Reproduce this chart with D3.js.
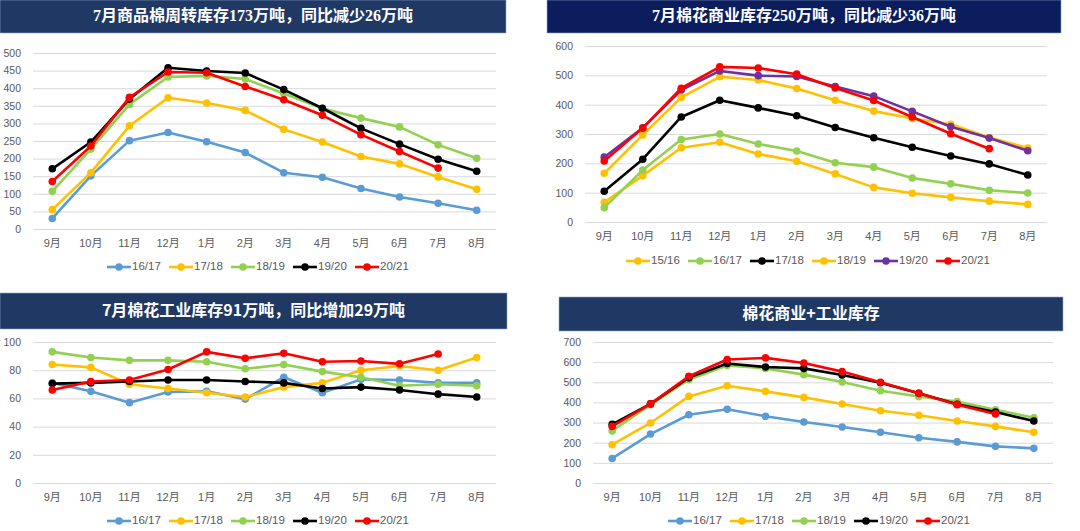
<!DOCTYPE html>
<html><head><meta charset="utf-8">
<script src="https://cdn.jsdelivr.net/npm/d3@7"></script>
<style>body{margin:0;background:#fff}svg{display:block}</style>
</head><body>
<svg id="c" width="1080" height="531"></svg>
<script>
const months = ["9月","10月","11月","12月","1月","2月","3月","4月","5月","6月","7月","8月"];

// Panel 1: 商品棉周转库存
const p1Titles = "7月商品棉周转库存173万吨，同比减少26万吨";
const p1Series = ["16/17","17/18","18/19","19/20","20/21"];
const p1_1617 = [30,151,251,274,248,217,160,147,115,91,73,53];
const p1_1718 = [55,160,293,373,358,337,283,247,206,185,148,113];
const p1_1819 = [107,227,354,432,435,426,385,342,315,290,239,201];
const p1_1920 = [171,247,369,458,449,443,396,343,286,241,198,164];
const p1_2021 = [135,236,374,446,444,405,367,323,268,220,173];
const p1Ticks = [0,50,100,150,200,250,300,350,400,450,500];

// Panel 2: 棉花商业库存
const p2Titles = "7月棉花商业库存250万吨，同比减少36万吨";
const p2Series = ["15/16","16/17","17/18","18/19","19/20","20/21"];
const p2_1516 = [67,158,253,272,232,207,164,118,98,84,71,60];
const p2_1617 = [49,177,281,300,266,242,202,187,150,130,108,99];
const p2_1718 = [105,214,358,415,389,362,322,287,255,225,198,160];
const p2_1819 = [166,297,425,495,484,455,415,378,353,333,288,252];
const p2_1920 = [221,321,450,515,499,496,462,429,377,325,286,243];
const p2_2021 = [208,320,456,529,525,504,457,414,358,301,250];
const p2Ticks = [0,100,200,300,400,500,600];

// Panel 3: 棉花工业库存
const p3Titles = "7月棉花工业库存91万吨，同比增加29万吨";
const p3Series = ["16/17","17/18","18/19","19/20","20/21"];
const p3_1617 = [71,65,57,64.5,65,59.5,75,64,73.5,73,71,71];
const p3_1718 = [84,82,70,67,64,61,68,71,80,83,80,89];
const p3_1819 = [93,89,87,87,86,81,84,79,75,69,70,69];
const p3_1920 = [70.5,71,72,73,73,72,71,67,68,66,63,61];
const p3_2021 = [66,72,73,80.5,93,88.5,92,86,86.5,84.5,91.5];
const p3Ticks = [0,20,40,60,80,100];

// Panel 4: 棉花商业+工业库存
const p4Titles = "棉花商业+工业库存";
const p4Series = ["16/17","17/18","18/19","19/20","20/21"];
const p4_1617 = [122,243,339,366,331,303,278,252,225,204,182,172];
const p4_1718 = [190,298,430,483,455,425,392,359,336,308,281,252];
const p4_1819 = [258,389,513,583,569,538,501,458,429,404,364,324];
const p4_1920 = [291,393,523,593,576,569,536,498,445,391,352,308];
const p4_2021 = [281,393,530,613,621,596,553,500,445,389,343];
const p4Ticks = [0,100,200,300,400,500,600,700];

const BLUE="#5B9BD5", ORANGE="#FFC000", GREEN="#92D050", BLACK="#000000", RED="#FF0000", PURPLE="#7030A0";

const panels = [
  {title:p1Titles, serif:true, names:p1Series, data:[p1_1617,p1_1718,p1_1819,p1_1920,p1_2021],
   colors:[BLUE,ORANGE,GREEN,BLACK,RED], ticks:p1Ticks,
   bar:{x:0,y:0,w:506,h:33,fill:"#1F3864"}, plot:{x0:33,x1:496,yTop:53,yBot:229},
   xLabelY:247, legendY:267, legendX:107},
  {title:p2Titles, serif:true, names:p2Series, data:[p2_1516,p2_1617,p2_1718,p2_1819,p2_1920,p2_2021],
   colors:[ORANGE,GREEN,BLACK,ORANGE,PURPLE,RED], ticks:p2Ticks,
   bar:{x:547,y:0,w:514,h:33,fill:"#0B1D5C"}, plot:{x0:585,x1:1047,yTop:46,yBot:222},
   xLabelY:240, legendY:261, legendX:626},
  {title:p3Titles, serif:false, names:p3Series, data:[p3_1617,p3_1718,p3_1819,p3_1920,p3_2021],
   colors:[BLUE,ORANGE,GREEN,BLACK,RED], ticks:p3Ticks,
   bar:{x:0,y:293,w:507,h:36,fill:"#1F3864"}, plot:{x0:33,x1:496,yTop:342,yBot:483},
   xLabelY:501, legendY:521, legendX:107},
  {title:p4Titles, serif:false, names:p4Series, data:[p4_1617,p4_1718,p4_1819,p4_1920,p4_2021],
   colors:[BLUE,ORANGE,GREEN,BLACK,RED], ticks:p4Ticks,
   bar:{x:559,y:297,w:504,h:34,fill:"#1F3864"}, plot:{x0:593,x1:1053,yTop:342,yBot:483},
   xLabelY:501, legendY:521, legendX:668}
];

const svg = d3.select("#c");
const labelFont = "'Liberation Sans', 'Noto Sans CJK SC', sans-serif";

panels.forEach(p => {
  const g = svg.append("g");
  // title bar
  g.append("rect").attr("x",p.bar.x).attr("y",p.bar.y).attr("width",p.bar.w).attr("height",p.bar.h)
    .attr("fill",p.bar.fill).attr("stroke","#8fa8d0").attr("stroke-width",0.6);
  g.append("text").attr("x",p.bar.x+p.bar.w/2).attr("y",p.bar.y+p.bar.h/2+1)
    .attr("text-anchor","middle").attr("dominant-baseline","middle")
    .attr("fill","#fff").attr("font-size",16).attr("font-weight","bold")
    .attr("font-family", p.serif ? "'Liberation Serif','Noto Sans CJK SC',serif" : "'Noto Sans CJK SC',sans-serif")
    .text(p.title);

  const x = d3.scaleBand().domain(months).range([p.plot.x0,p.plot.x1]);
  const ymax = d3.max(p.ticks);
  const y = d3.scaleLinear().domain([0,ymax]).range([p.plot.yBot,p.plot.yTop]);

  // gridlines
  const yAxis = d3.axisLeft(y).tickValues(p.ticks).tickSize(-(p.plot.x1-p.plot.x0)).tickPadding(12);
  const ya = g.append("g").attr("transform",`translate(${p.plot.x0},0)`).call(yAxis);
  ya.select(".domain").remove();
  ya.selectAll(".tick line").attr("stroke","#d9d9d9").attr("stroke-width",1);
  ya.selectAll(".tick text").attr("fill","#595959").attr("font-size",10.5).attr("font-family",labelFont);

  // x axis labels
  const xAxis = d3.axisBottom(x).tickSize(0).tickPadding(0);
  const xa = g.append("g").attr("transform",`translate(0,${p.xLabelY-8})`).call(xAxis);
  xa.select(".domain").remove();
  xa.selectAll(".tick text").attr("fill","#595959").attr("font-size",11).attr("font-family",labelFont);

  const line = d3.line().x((d,i)=>x(months[i])+x.bandwidth()/2).y(d=>y(d));
  p.data.forEach((arr,si) => {
    const c = p.colors[si];
    g.append("path").datum(arr).attr("d",line).attr("fill","none")
      .attr("stroke",c).attr("stroke-width",2.6).attr("stroke-linejoin","round");
    g.selectAll(null).data(arr).enter().append("circle")
      .attr("cx",(d,i)=>x(months[i])+x.bandwidth()/2).attr("cy",d=>y(d))
      .attr("r",3.8).attr("fill",c);
  });

  // legend
  let lx = p.legendX;
  p.names.forEach((n,si) => {
    const c = p.colors[si];
    const lg = g.append("g").attr("transform",`translate(${lx},${p.legendY})`);
    lg.append("line").attr("x1",0).attr("x2",24).attr("y1",0).attr("y2",0).attr("stroke",c).attr("stroke-width",2.6);
    lg.append("circle").attr("cx",12).attr("cy",0).attr("r",3.8).attr("fill",c);
    lg.append("text").attr("x",25).attr("y",0).attr("dominant-baseline","middle")
      .attr("fill","#595959").attr("font-size",11.5).attr("font-family",labelFont).text(n);
    lx += 62;
  });
});
</script>
</body></html>
